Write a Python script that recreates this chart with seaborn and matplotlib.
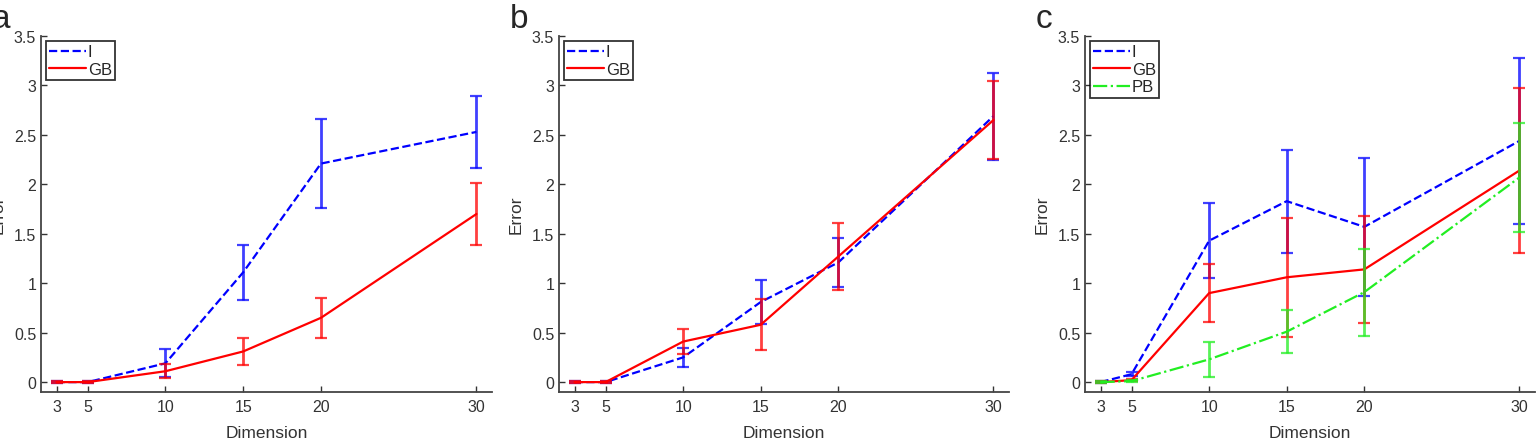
import numpy as np
import pandas as pd
import matplotlib
matplotlib.use("Agg")
import matplotlib.pyplot as plt
import seaborn as sns
from matplotlib.ticker import FuncFormatter

# --- DATA ---
DIMS = [3, 5, 10, 15, 20, 30]

# panel a
A_I = [0.0, 0.0, 0.19, 1.11, 2.21, 2.53]
A_I_ERR = [0.01, 0.01, 0.14, 0.28, 0.45, 0.36]
A_GB = [0.0, 0.0, 0.11, 0.31, 0.65, 1.70]
A_GB_ERR = [0.01, 0.01, 0.07, 0.14, 0.20, 0.31]

# panel b
B_I = [0.0, 0.0, 0.25, 0.81, 1.21, 2.69]
B_I_ERR = [0.01, 0.01, 0.10, 0.22, 0.25, 0.44]
B_GB = [0.0, 0.0, 0.41, 0.58, 1.27, 2.65]
B_GB_ERR = [0.01, 0.01, 0.13, 0.26, 0.34, 0.39]

# panel c
C_I = [0.0, 0.08, 1.43, 1.83, 1.57, 2.44]
C_I_ERR = [0.01, 0.02, 0.38, 0.52, 0.70, 0.84]
C_GB = [0.0, 0.02, 0.90, 1.06, 1.14, 2.14]
C_GB_ERR = [0.01, 0.01, 0.29, 0.60, 0.54, 0.83]
C_PB = [0.0, 0.01, 0.23, 0.51, 0.91, 2.07]
C_PB_ERR = [0.01, 0.01, 0.18, 0.22, 0.44, 0.55]

PANELS = [
    ("a", [("I", A_I, A_I_ERR), ("GB", A_GB, A_GB_ERR)]),
    ("b", [("I", B_I, B_I_ERR), ("GB", B_GB, B_GB_ERR)]),
    ("c", [("I", C_I, C_I_ERR), ("GB", C_GB, C_GB_ERR), ("PB", C_PB, C_PB_ERR)]),
]

STYLE = {
    "I": dict(color="#0000ff", ls="--"),
    "GB": dict(color="#ff0000", ls="-"),
    "PB": dict(color="#22ee22", ls="-."),
}

# axes boxes in pixels (left, right) ; top/bottom shared
AX_X = [(41, 492), (559, 1009), (1085, 1535)]
AX_TOP, AX_BOTTOM = 37, 393
W, H = 1537, 439

sns.set_style("ticks")
plt.rcParams["font.family"] = ["Liberation Sans", "DejaVu Sans"]
plt.rcParams["xtick.direction"] = "in"
plt.rcParams["ytick.direction"] = "in"

fig = plt.figure(figsize=(W / 100, H / 100), dpi=100)

for (letter, series), (x0, x1) in zip(PANELS, AX_X):
    ax = fig.add_axes([x0 / W, 1 - AX_BOTTOM / H, (x1 - x0) / W, (AX_BOTTOM - AX_TOP) / H])
    for name, vals, errs in series:
        st = STYLE[name]
        df = pd.DataFrame({"Dimension": DIMS, "Error": vals})
        sns.lineplot(data=df, x="Dimension", y="Error", ax=ax, color=st["color"],
                     linestyle=st["ls"], linewidth=1.6, label=name)
        ax.errorbar(DIMS, vals, yerr=errs, fmt="none", ecolor=st["color"],
                    elinewidth=2.0, capsize=4, capthick=1.6, alpha=0.75)

    ax.set_xlim(2, 31)
    ax.set_ylim(-0.1, 3.5)
    ax.set_xticks(DIMS)
    ax.set_yticks(np.arange(0, 3.51, 0.5))
    ax.yaxis.set_major_formatter(FuncFormatter(lambda v, p: f"{v:g}"))
    ax.tick_params(labelsize=11.5, colors="#333333", length=4, width=1.0)
    ax.tick_params(axis="x", pad=5)
    ax.set_xlabel("Dimension", fontsize=12.5, color="#333333", labelpad=8)
    ax.set_ylabel("Error", fontsize=12.5, color="#333333", labelpad=6)
    sns.despine(ax=ax)
    for sp in ("left", "bottom"):
        ax.spines[sp].set_color("#444444")
        ax.spines[sp].set_linewidth(1.3)

    leg = ax.legend(loc="upper left", fontsize=12, handlelength=2.2, handletextpad=0.1,
                    borderpad=0.2, labelspacing=0.15, borderaxespad=0.3, fancybox=False)
    leg.get_frame().set_edgecolor("black")
    leg.get_frame().set_linewidth(1.3)

    fig.text((x0 - 49) / W, 1 - 20 / H, letter, fontsize=24, ha="left", va="center")

fig.savefig("out.png", dpi=100)
